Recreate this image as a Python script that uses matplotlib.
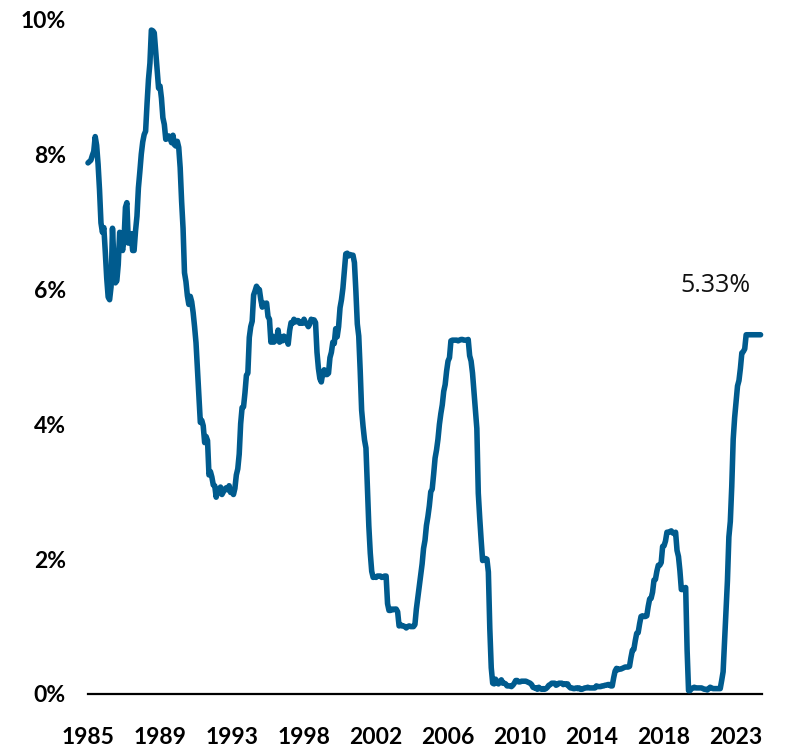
import matplotlib
matplotlib.use("Agg")
import matplotlib.pyplot as plt
import numpy as np

# Effective federal funds rate, monthly, Jul 1985 - Jun 2024 (%)
rate_1985 = [7.88, 7.90, 7.92, 7.99, 8.05, 8.27]
rate_1986_2024 = [
    8.14, 7.86, 7.48, 6.99, 6.85, 6.92, 6.56, 6.17, 5.89, 5.85, 6.04, 6.91,
    6.43, 6.10, 6.13, 6.37, 6.85, 6.73, 6.58, 6.73, 7.22, 7.29, 6.69, 6.77,
    6.83, 6.58, 6.58, 6.87, 7.09, 7.51, 7.75, 8.01, 8.19, 8.30, 8.35, 8.76,
    9.12, 9.36, 9.85, 9.84, 9.81, 9.53, 9.24, 8.99, 9.02, 8.84, 8.55, 8.45,
    8.23, 8.24, 8.28, 8.26, 8.18, 8.29, 8.15, 8.13, 8.20, 8.11, 7.81, 7.31,
    6.91, 6.25, 6.12, 5.91, 5.78, 5.90, 5.82, 5.66, 5.45, 5.21, 4.81, 4.43,
    4.03, 4.06, 3.98, 3.73, 3.82, 3.76, 3.25, 3.30, 3.22, 3.10, 3.09, 2.92,
    3.02, 3.03, 3.07, 2.96, 3.00, 3.04, 3.06, 3.03, 3.09, 2.99, 3.02, 2.96,
    3.05, 3.25, 3.34, 3.56, 4.01, 4.25, 4.26, 4.47, 4.73, 4.76, 5.29, 5.45,
    5.53, 5.92, 5.98, 6.05, 6.01, 6.00, 5.85, 5.74, 5.80, 5.76, 5.80, 5.60,
    5.56, 5.22, 5.31, 5.22, 5.24, 5.27, 5.40, 5.22, 5.30, 5.24, 5.31, 5.29,
    5.25, 5.19, 5.39, 5.51, 5.50, 5.56, 5.52, 5.54, 5.54, 5.50, 5.52, 5.50,
    5.56, 5.51, 5.49, 5.45, 5.49, 5.56, 5.54, 5.55, 5.51, 5.07, 4.83, 4.68,
    4.63, 4.76, 4.81, 4.74, 4.74, 4.76, 4.99, 5.07, 5.22, 5.20, 5.42, 5.30,
    5.45, 5.73, 5.85, 6.02, 6.27, 6.53, 6.54, 6.50, 6.52, 6.51, 6.51, 6.40,
    5.98, 5.49, 5.31, 4.80, 4.21, 3.97, 3.77, 3.65, 3.07, 2.49, 2.09, 1.82,
    1.73, 1.74, 1.73, 1.75, 1.75, 1.75, 1.73, 1.74, 1.75, 1.75, 1.34, 1.24,
    1.24, 1.26, 1.25, 1.26, 1.26, 1.22, 1.01, 1.03, 1.01, 1.01, 1.00, 0.98,
    1.00, 1.01, 1.00, 1.00, 1.00, 1.03, 1.26, 1.43, 1.61, 1.76, 1.93, 2.16,
    2.28, 2.50, 2.63, 2.79, 3.00, 3.04, 3.26, 3.50, 3.62, 3.78, 4.00, 4.16,
    4.29, 4.49, 4.59, 4.79, 4.94, 4.99, 5.24, 5.25, 5.25, 5.25, 5.25, 5.24,
    5.25, 5.26, 5.26, 5.25, 5.25, 5.25, 5.26, 5.02, 4.94, 4.76, 4.49, 4.24,
    3.94, 2.98, 2.61, 2.28, 1.98, 2.00, 2.01, 2.00, 1.81, 0.97, 0.39, 0.16,
    0.15, 0.22, 0.18, 0.15, 0.18, 0.21, 0.16, 0.16, 0.15, 0.12, 0.12, 0.12,
    0.11, 0.13, 0.16, 0.20, 0.20, 0.18, 0.18, 0.19, 0.19, 0.19, 0.19, 0.18,
    0.17, 0.16, 0.14, 0.10, 0.09, 0.09, 0.07, 0.10, 0.08, 0.07, 0.08, 0.07,
    0.08, 0.10, 0.13, 0.14, 0.16, 0.16, 0.16, 0.13, 0.14, 0.16, 0.16, 0.16,
    0.14, 0.15, 0.14, 0.15, 0.11, 0.09, 0.09, 0.08, 0.08, 0.09, 0.08, 0.09,
    0.07, 0.07, 0.08, 0.09, 0.09, 0.10, 0.09, 0.09, 0.09, 0.09, 0.09, 0.12,
    0.11, 0.11, 0.11, 0.12, 0.12, 0.13, 0.13, 0.14, 0.14, 0.12, 0.12, 0.24,
    0.34, 0.38, 0.36, 0.37, 0.37, 0.38, 0.39, 0.40, 0.40, 0.40, 0.41, 0.54,
    0.65, 0.66, 0.79, 0.90, 0.91, 1.04, 1.15, 1.16, 1.15, 1.15, 1.16, 1.30,
    1.41, 1.42, 1.51, 1.69, 1.70, 1.82, 1.91, 1.91, 1.95, 2.19, 2.20, 2.27,
    2.40, 2.40, 2.41, 2.42, 2.39, 2.38, 2.40, 2.13, 2.04, 1.83, 1.55, 1.55,
    1.55, 1.58, 0.65, 0.05, 0.05, 0.08, 0.09, 0.10, 0.09, 0.09, 0.09, 0.09,
    0.09, 0.08, 0.07, 0.07, 0.06, 0.08, 0.10, 0.09, 0.08, 0.08, 0.08, 0.08,
    0.08, 0.08, 0.20, 0.33, 0.77, 1.21, 1.68, 2.33, 2.56, 3.08, 3.78, 4.10,
    4.33, 4.57, 4.65, 4.83, 5.06, 5.08, 5.12, 5.33, 5.33, 5.33, 5.33, 5.33,
    5.33, 5.33, 5.33, 5.33, 5.33, 5.33,
]
rates = rate_1985 + rate_1986_2024

x_tick_labels = ["1985", "1989", "1993", "1998", "2002",
                 "2006", "2010", "2014", "2018", "2023"]
y_ticks = [0, 2, 4, 6, 8, 10]
y_tick_labels = ["0%", "2%", "4%", "6%", "8%", "10%"]
last_label = "5.33%"

LINE = "#005b8e"

fig = plt.figure(figsize=(7.88, 7.52), dpi=100)
ax = fig.add_axes([88 / 788, 1 - 694 / 752, (762 - 88) / 788, (694 - 20) / 752])

x = np.arange(len(rates))
ax.plot(x, rates, color=LINE, lw=4.0, solid_joinstyle="round",
        solid_capstyle="round", clip_on=False, zorder=3)

ax.set_xlim(0, len(rates))
ax.set_ylim(0, 10)

ax.set_xticks(np.arange(len(x_tick_labels)) * 50)
ax.set_xticklabels(x_tick_labels, fontfamily="Lato", fontweight="bold",
                   fontsize=16.5)
ax.set_yticks(y_ticks)
ax.set_yticklabels(y_tick_labels, fontfamily="Lato", fontweight="bold",
                   fontsize=16.5)
ax.tick_params(axis="both", length=0, colors="black")
ax.tick_params(axis="x", pad=24)
ax.tick_params(axis="y", pad=16)

for s in ["top", "right", "left"]:
    ax.spines[s].set_visible(False)
ax.spines["bottom"].set_linewidth(1.6)
ax.spines["bottom"].set_color("black")
ax.spines["bottom"].set_zorder(2)

ax.text(len(rates) - 32, 5.87, last_label, fontfamily="Open Sans",
        fontsize=18, ha="center", va="bottom", color="#111111")

fig.savefig("out.png", dpi=100)
